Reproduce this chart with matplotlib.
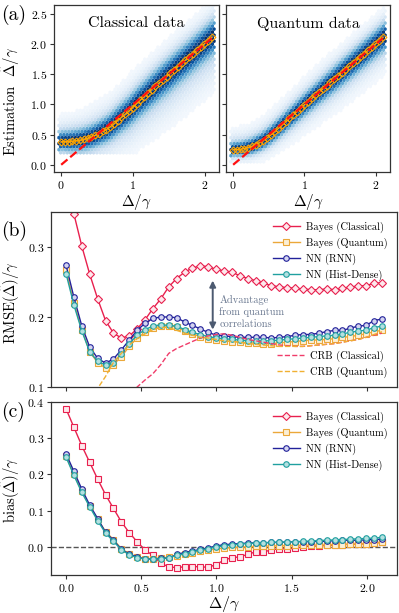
import matplotlib
matplotlib.use('Agg')
import matplotlib.pyplot as plt
import numpy as np

plt.rcParams['font.family'] = 'serif'
plt.rcParams['font.serif'] = ['cmr10']
plt.rcParams['mathtext.fontset'] = 'cm'
plt.rcParams['axes.formatter.use_mathtext'] = True
plt.rcParams['axes.unicode_minus'] = True

# sampling grid of the true detuning Delta/gamma
delta = np.linspace(0, 2.1, 41)

# (b) RMSE curves
rmse_bayes_cl = [0.395, 0.347, 0.301, 0.261, 0.226, 0.195, 0.177, 0.170, 0.173, 0.183,
                 0.196, 0.212, 0.226, 0.243, 0.255, 0.264, 0.270, 0.273, 0.272, 0.268,
                 0.266, 0.264, 0.259, 0.255, 0.252, 0.248, 0.245, 0.243, 0.242, 0.241,
                 0.240, 0.239, 0.239, 0.240, 0.239, 0.241, 0.243, 0.244, 0.245, 0.248, 0.249]
rmse_bayes_qu = [0.267, 0.220, 0.182, 0.150, 0.135, 0.127, 0.132, 0.143, 0.158, 0.170,
                 0.178, 0.184, 0.187, 0.187, 0.186, 0.180, 0.176, 0.172, 0.169, 0.167,
                 0.166, 0.165, 0.164, 0.163, 0.163, 0.162, 0.162, 0.163, 0.164, 0.165,
                 0.166, 0.167, 0.167, 0.168, 0.169, 0.171, 0.172, 0.174, 0.176, 0.179, 0.181]
rmse_rnn = [0.274, 0.228, 0.187, 0.157, 0.141, 0.134, 0.140, 0.153, 0.167, 0.181,
            0.191, 0.198, 0.200, 0.200, 0.199, 0.193, 0.188, 0.183, 0.178, 0.174,
            0.173, 0.172, 0.171, 0.171, 0.171, 0.171, 0.170, 0.171, 0.172, 0.174,
            0.175, 0.175, 0.177, 0.179, 0.181, 0.181, 0.184, 0.187, 0.188, 0.195, 0.197]
rmse_hist = [0.262, 0.217, 0.180, 0.150, 0.137, 0.131, 0.135, 0.147, 0.162, 0.174,
             0.182, 0.187, 0.189, 0.188, 0.187, 0.182, 0.178, 0.175, 0.172, 0.170,
             0.169, 0.168, 0.167, 0.166, 0.166, 0.166, 0.166, 0.167, 0.168, 0.169,
             0.170, 0.171, 0.172, 0.173, 0.174, 0.176, 0.178, 0.180, 0.181, 0.185, 0.187]
crb_cl = [np.nan, np.nan, np.nan, np.nan, np.nan, 0.040, 0.055, 0.070, 0.085, 0.100,
          0.110, 0.119, 0.132, 0.148, 0.155, 0.160, 0.165, 0.170, 0.173, 0.175,
          0.176, 0.174, 0.171, 0.168, 0.166, 0.164, 0.162, 0.160, 0.159, 0.158,
          0.158, 0.159, 0.160, 0.161, 0.162, 0.164, 0.166, 0.168, 0.171, 0.174, 0.177]
crb_qu = [0.020, 0.040, 0.060, 0.080, 0.098, 0.115, 0.135, 0.148, 0.160, 0.169,
          0.176, 0.182, 0.185, 0.185, 0.181, 0.177, 0.174, 0.171, 0.170, 0.168,
          0.166, 0.165, 0.164, 0.162, 0.161, 0.160, 0.159, 0.158, 0.158, 0.158,
          0.158, 0.159, 0.160, 0.161, 0.162, 0.164, 0.166, 0.168, 0.171, 0.175, 0.179]

# (c) bias curves
bias_bayes_cl = [0.381, 0.330, 0.279, 0.233, 0.187, 0.144, 0.106, 0.069, 0.039, 0.014,
                 -0.009, -0.024, -0.046, -0.055, -0.058, -0.055, -0.055, -0.055, -0.057, -0.049,
                 -0.037, -0.030, -0.028, -0.021, -0.014, -0.014, -0.009, -0.005, -0.006, -0.004,
                 0.000, 0.002, 0.002, 0.004, 0.004, 0.006, 0.007, 0.007, 0.009, 0.011, 0.012]
bias_bayes_qu = [0.250, 0.200, 0.153, 0.112, 0.076, 0.042, 0.020, -0.005, -0.020, -0.029,
                 -0.033, -0.033, -0.031, -0.029, -0.025, -0.020, -0.016, -0.012, -0.009, -0.006,
                 -0.004, -0.002, -0.001, 0.000, 0.001, 0.002, 0.002, 0.003, 0.003, 0.004,
                 0.004, 0.004, 0.005, 0.005, 0.006, 0.006, 0.007, 0.008, 0.008, 0.010, 0.012]
bias_rnn = [0.257, 0.208, 0.159, 0.115, 0.078, 0.040, 0.018, -0.007, -0.020, -0.028,
            -0.034, -0.034, -0.032, -0.032, -0.021, -0.016, -0.012, -0.007, -0.003, 0.002,
            0.006, 0.007, 0.009, 0.010, 0.011, 0.011, 0.012, 0.012, 0.013, 0.014,
            0.014, 0.014, 0.015, 0.015, 0.017, 0.018, 0.018, 0.018, 0.019, 0.020, 0.021]
bias_hist = [0.248, 0.197, 0.150, 0.110, 0.072, 0.038, 0.015, -0.008, -0.022, -0.030,
             -0.034, -0.034, -0.033, -0.030, -0.024, -0.019, -0.014, -0.009, -0.005, -0.001,
             0.003, 0.005, 0.007, 0.009, 0.010, 0.011, 0.012, 0.013, 0.013, 0.014,
             0.015, 0.016, 0.017, 0.018, 0.019, 0.020, 0.021, 0.022, 0.023, 0.024, 0.026]

# (a) shape of the estimator distributions: core + broad tails
spread_nodes = [0.0, 0.5, 1.0, 1.5, 2.1]
cl_core = [0.10, 0.12, 0.15, 0.17, 0.17]
cl_tail_lo = [0.08, 0.22, 0.35, 0.40, 0.42]
cl_tail_hi = [0.20, 0.24, 0.26, 0.26, 0.26]
cl_floor = 0.21
qu_core = [0.07, 0.09, 0.11, 0.13, 0.14]
qu_tail_lo = [0.08, 0.16, 0.22, 0.26, 0.28]
qu_tail_hi = [0.16, 0.18, 0.20, 0.21, 0.21]
qu_floor = 0.06

C_CL = '#e8204e'
C_QU = '#eba83a'
C_RNN = '#22229a'
C_HIST = '#20a0a0'
C_ARROW = '#4c5a70'

W, H = 399, 613
fig = plt.figure(figsize=(W / 100, H / 100), dpi=100)


def rect(x0, y0, x1, y1):
    return [x0 / W, 1 - y1 / H, (x1 - x0) / W, (y1 - y0) / H]


def style(ax):
    for s in ax.spines.values():
        s.set_color('#333333')
        s.set_linewidth(0.9)
    ax.tick_params(direction='out', length=3, width=0.8, labelsize=8.5, color='#333333', pad=2)


def density(ax, mean_bias, core, tlo, thi, floor):
    gx = np.linspace(-0.02, 2.13, 400)
    gy = np.linspace(0, 2.65, 420)
    X, Y = np.meshgrid(gx, gy)
    mean = X + np.interp(X, delta, mean_bias)
    c = np.interp(X, spread_nodes, core)
    t = np.where(Y < mean, np.interp(X, spread_nodes, tlo), np.interp(X, spread_nodes, thi))
    d = 0.68 * np.exp(-0.5 * ((Y - mean) / c) ** 2) + 0.3 * np.exp(-0.5 * ((Y - mean) / t) ** 2)
    keep = (d > 0.025) & (Y > floor)
    ax.hexbin(X[keep], Y[keep], C=d[keep], gridsize=50, cmap='Blues',
              reduce_C_function=np.mean, vmin=0, vmax=0.9, linewidths=0,
              extent=(-0.1, 2.2, -0.1, 2.7))
    ax.plot(delta, delta + np.array(mean_bias), color='orange', lw=1.1,
            marker='D', ms=3.5, mfc='none', mew=0.8, zorder=3)
    ax.plot([0, 2.1], [0, 2.1], color='#ff1010', ls='--', lw=1.6, zorder=4)
    ax.set_xlim(-0.1, 2.2)
    ax.set_ylim(-0.12, 2.65)
    ax.set_xticks([0, 1, 2])
    ax.set_yticks([0, 0.5, 1.0, 1.5, 2.0, 2.5])
    ax.set_xlabel(r'$\Delta/\gamma$', fontsize=11, labelpad=1)
    style(ax)


# (a)
ax1 = fig.add_axes(rect(54, 5, 219, 172))
density(ax1, bias_bayes_cl, cl_core, cl_tail_lo, cl_tail_hi, cl_floor)
ax1.text(0.5, 0.93, 'Classical data', transform=ax1.transAxes, ha='center', va='top', fontsize=11.5)
ax1.set_ylabel(r'Estimation  $\hat{\Delta}/\gamma$', fontsize=10.5)
ax1.yaxis.set_label_coords(-0.195, 0.42)

ax2 = fig.add_axes(rect(226, 5, 390, 172))
density(ax2, bias_bayes_qu, qu_core, qu_tail_lo, qu_tail_hi, qu_floor)
ax2.text(0.5, 0.93, 'Quantum data', transform=ax2.transAxes, ha='center', va='top', fontsize=11.5)
ax2.set_yticklabels([])

fig.text(1 / W, 1 - 15 / H, '(a)', fontsize=14, va='center')

mk = dict(ms=4, mew=0.8, lw=1.0)
leg_kw = dict(frameon=False, fontsize=7.5, handlelength=2.6, labelspacing=0.45,
              borderaxespad=0.5, handletextpad=0.6)

# (b)
ax3 = fig.add_axes(rect(51, 212, 397, 387))
ax3.plot(delta, rmse_bayes_cl, color=C_CL, marker='D', mfc='#fde8ec', label='Bayes (Classical)', **mk)
ax3.plot(delta, rmse_bayes_qu, color=C_QU, marker='s', mfc='#fbefd6', label='Bayes (Quantum)', **mk)
ax3.plot(delta, rmse_rnn, color=C_RNN, marker='o', mfc='#d4d4f0', label='NN (RNN)', **mk)
ax3.plot(delta, rmse_hist, color=C_HIST, marker='o', mfc='#b4e0e0', label='NN (Hist-Dense)', **mk)
ax3.plot(delta, crb_cl, color='#f03c6a', ls='--', lw=1.0, label='CRB (Classical)')
ax3.plot(delta, crb_qu, color='#f0b032', ls='--', lw=1.0, label='CRB (Quantum)')
h, lb = ax3.get_legend_handles_labels()
leg1 = ax3.legend(h[:4], lb[:4], loc='upper right', **leg_kw)
ax3.add_artist(leg1)
ax3.legend(h[4:], lb[4:], loc='lower right', **leg_kw)
ax3.annotate('', xy=(0.975, 0.178), xytext=(0.975, 0.256),
             arrowprops=dict(arrowstyle='<|-|>', color=C_ARROW, lw=1.4, mutation_scale=9))
ax3.text(1.02, 0.207, 'Advantage\nfrom quantum\ncorrelations', color='#6a7890',
         fontsize=7.5, va='center', ha='left', linespacing=1.25)
ax3.set_xlim(-0.1, 2.2)
ax3.set_ylim(0.1, 0.35)
ax3.set_xticks([0, 0.5, 1.0, 1.5, 2.0])
ax3.set_xticklabels([])
ax3.set_yticks([0.1, 0.2, 0.3])
ax3.set_ylabel(r'RMSE$(\hat{\Delta})/\gamma$', fontsize=10.5)
ax3.yaxis.set_label_coords(-0.083, 0.48)
style(ax3)
fig.text(1 / W, 1 - 231 / H, '(b)', fontsize=14, va='center')

# (c)
ax4 = fig.add_axes(rect(51, 402, 397, 575))
ax4.axhline(0, color='#555555', ls='--', lw=1.0, zorder=0)
ax4.plot(delta, bias_bayes_cl, color=C_CL, marker='s', mfc='#fde8ec', **mk)
ax4.plot(delta, bias_bayes_qu, color=C_QU, marker='s', mfc='#fbefd6', **mk)
ax4.plot(delta, bias_rnn, color=C_RNN, marker='o', mfc='#d4d4f0', **mk)
ax4.plot(delta, bias_hist, color=C_HIST, marker='o', mfc='#b4e0e0', **mk)
ax4.legend(h[:4], lb[:4], loc='upper right', **leg_kw)
ax4.set_xlim(-0.1, 2.2)
ax4.set_ylim(-0.078, 0.4)
ax4.set_xticks([0, 0.5, 1.0, 1.5, 2.0])
ax4.set_yticks([0.0, 0.1, 0.2, 0.3, 0.4])
ax4.set_xlabel(r'$\Delta/\gamma$', fontsize=11.5)
ax4.xaxis.set_label_coords(0.5, -0.112)
ax4.set_ylabel(r'bias$(\hat{\Delta})/\gamma$', fontsize=10.5)
ax4.yaxis.set_label_coords(-0.083, 0.49)
style(ax4)
fig.text(1 / W, 1 - 412 / H, '(c)', fontsize=14, va='center')

fig.savefig('out.png', dpi=100)
